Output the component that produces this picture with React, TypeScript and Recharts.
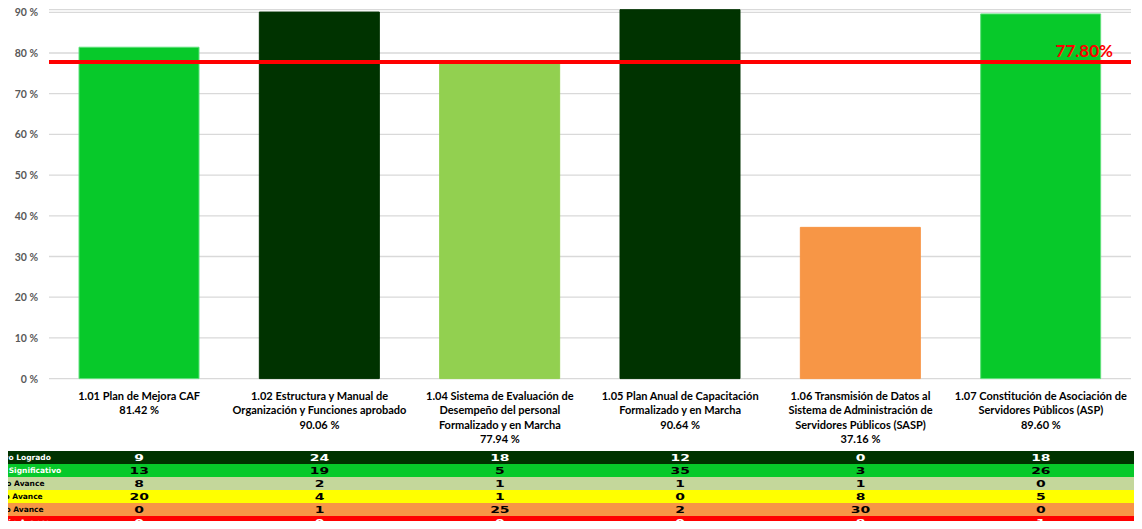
import React from "react";
import { BarChart, Bar, XAxis, YAxis, CartesianGrid, ReferenceLine, Cell } from "recharts";

const categoryKeys = ["1.01", "1.02", "1.04", "1.05", "1.06", "1.07"];
const categoryLabelLines = [
  ["1.01 Plan de Mejora CAF"],
  ["1.02 Estructura y Manual de", "Organización y Funciones aprobado"],
  ["1.04 Sistema de Evaluación de", "Desempeño del personal", "Formalizado y en Marcha"],
  ["1.05 Plan Anual de Capacitación", "Formalizado y en Marcha"],
  ["1.06 Transmisión de Datos al", "Sistema de Administración de", "Servidores Públicos (SASP)"],
  ["1.07 Constitución de Asociación de", "Servidores Públicos (ASP)"],
];
const values = [81.42, 90.06, 77.94, 90.64, 37.16, 89.6];
const barColors = ["#07C92A", "#003300", "#92D050", "#003300", "#F79646", "#07C92A"];
const barStrokes = ["#5FE07A", "#003300", "#92D050", "#003300", "#F79646", "#5FE07A"];
const target = 77.8;
const yTicks = [0, 10, 20, 30, 40, 50, 60, 70, 80, 90];

// Row labels as visible in the reference (cropped at the left edge there)
const tableRowNames = ["ivo Logrado", "e Significativo", "ho Avance", "to Avance", "co Avance", "gún Avance"];
const objetivoLogrado = [9, 24, 18, 12, 0, 18];
const avanceSignificativo = [13, 19, 5, 35, 3, 26];
const muchoAvance = [8, 2, 1, 1, 1, 0];
const ciertoAvance = [20, 4, 1, 0, 8, 5];
const pocoAvance = [0, 1, 25, 2, 30, 0];
const ningunAvance = [0, 0, 0, 0, 8, 1];
const tableRows = [objetivoLogrado, avanceSignificativo, muchoAvance, ciertoAvance, pocoAvance, ningunAvance];
const tableRowColors = ["#003300", "#07C92A", "#C4D79B", "#FFFF00", "#F79646", "#FF0000"];
const tableRowTextColors = ["#FFFFFF", "#000000", "#000000", "#000000", "#000000", "#FFFFFF"];
const tableLabelColors = ["#FFFFFF", "#FFFFFF", "#000000", "#000000", "#000000", "#FFFFFF"];

const data = categoryKeys.map((k, i) => ({ key: k, value: values[i] }));

const XTick = (props: any) => {
  const { x, y, payload } = props;
  const i = categoryKeys.indexOf(payload.value);
  if (i < 0) return null;
  const lines = [...categoryLabelLines[i], `${values[i].toFixed(2)} %`];
  return (
    <g>
      {lines.map((l, j) => (
        <text
          key={j}
          x={x}
          y={y + 16.5 + j * 14.6}
          textAnchor="middle"
          dominantBaseline="central"
          fontFamily="Lato"
          fontWeight="bold"
          fontSize={11}
          fill="#000000"
        >
          {l}
        </text>
      ))}
      {tableRows.map((row, r) => (
        <text
          key={"r" + r}
          transform={`translate(${x}, ${y + 79 + r * 13}) scale(1.55, 1)`}
          textAnchor="middle"
          dominantBaseline="central"
          fontFamily="DejaVu Sans"
          fontWeight="bold"
          fontSize={9}
          fill={tableRowTextColors[r]}
        >
          {row[i]}
        </text>
      ))}
    </g>
  );
};

const YTick = (props: any) => {
  const { x, y, payload } = props;
  return (
    <text x={x} y={y} textAnchor="end" dominantBaseline="central" fontFamily="Lato" fontWeight="bold" fontSize={10.5} fill="#595959">
      {`${payload.value} %`}
    </text>
  );
};

const TargetLabel = (props: any) => {
  const vb = props.viewBox || {};
  return (
    <text
      x={vb.x + vb.width - 18}
      y={vb.y - 11}
      textAnchor="end"
      dominantBaseline="central"
      fontFamily="Lato"
      fontWeight="bold"
      fontSize={17}
      fill="#FF0000"
    >
      {`${target.toFixed(2)}%`}
    </text>
  );
};

export default function App() {
  const maxV = Math.max(...values);
  return (
    <div style={{ position: "relative", width: 1142, height: 529, margin: -8, overflow: "hidden", background: "#FFFFFF" }}>
      {tableRowNames.map((n, r) => (
        <div
          key={n}
          style={{ position: "absolute", left: 0, top: 451 + r * 13, width: 1138, height: 13, background: tableRowColors[r] }}
        />
      ))}
      <div style={{ position: "absolute", left: 0, top: 0 }}>
        <BarChart width={1142} height={529} data={data} margin={{ top: 9.7, right: 11, left: 0, bottom: 0 }}>
          <CartesianGrid vertical={false} stroke="#D9D9D9" strokeWidth={1.3} />
          <XAxis dataKey="key" height={150.4} axisLine={false} tickLine={false} tickSize={0} tickMargin={0} tick={<XTick />} interval={0} />
          <YAxis
            type="number"
            domain={[0, maxV]}
            ticks={yTicks}
            width={49}
            axisLine={false}
            tickLine={false}
            tickSize={0}
            tickMargin={11}
            tick={<YTick />}
          />
          <Bar dataKey="value" barSize={120} isAnimationActive={false}>
            {data.map((d, i) => (
              <Cell key={d.key} fill={barColors[i]} stroke={barStrokes[i]} strokeWidth={1} />
            ))}
          </Bar>
          <ReferenceLine y={target} stroke="#FF0000" strokeWidth={4} label={<TargetLabel />} ifOverflow="visible" />
        </BarChart>
      </div>
      <svg width={1142} height={529} style={{ position: "absolute", left: 0, top: 0, pointerEvents: "none" }}>
        {tableRowNames.map((n, r) => (
          <text
            key={n}
            x={1}
            y={451 + r * 13 + 6.5}
            textAnchor="start"
            dominantBaseline="central"
            fontFamily="DejaVu Sans"
            fontWeight="bold"
            fontSize={7.5}
            fill={tableLabelColors[r]}
          >
            {n}
          </text>
        ))}
      </svg>
    </div>
  );
}
